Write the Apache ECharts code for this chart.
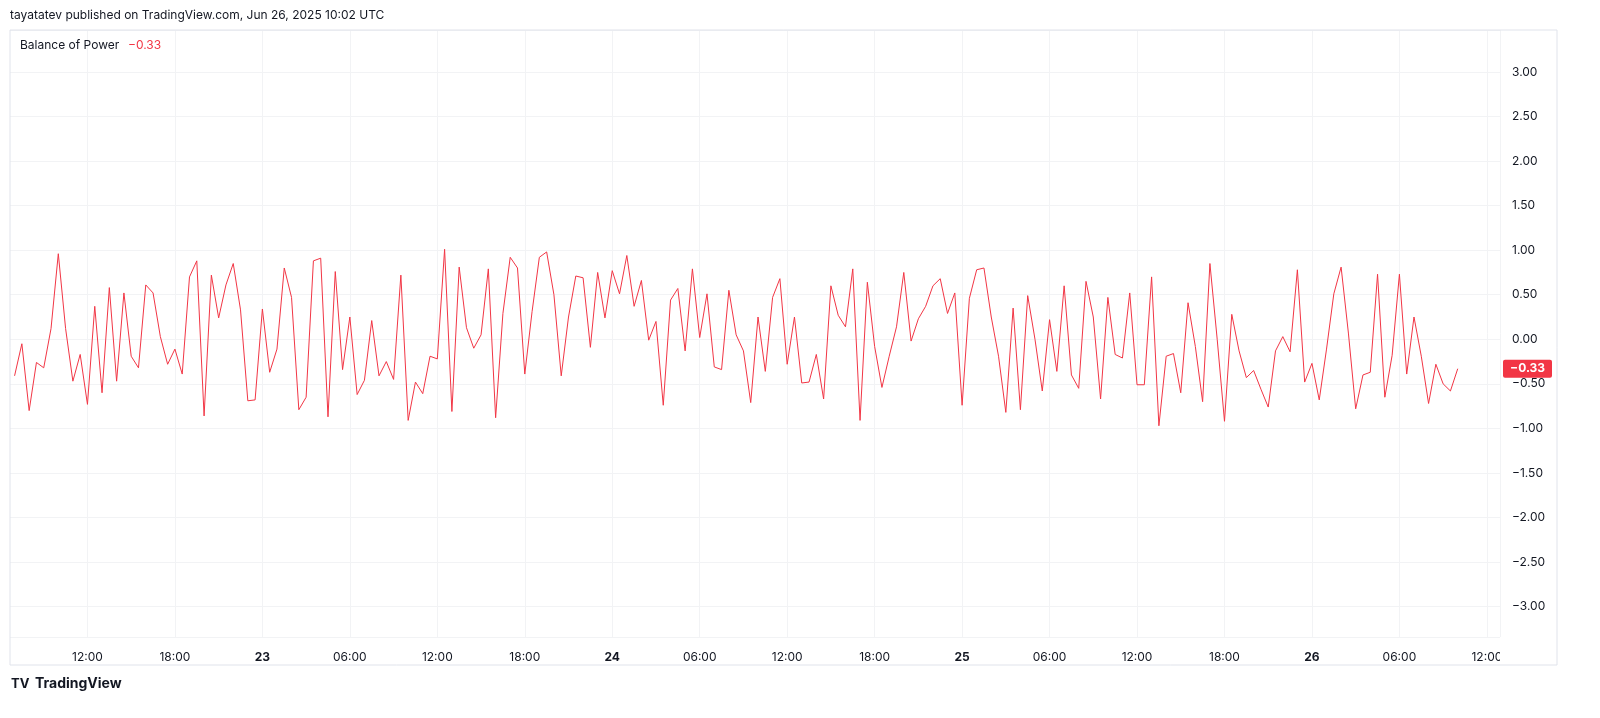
<!DOCTYPE html>
<html><head><meta charset="utf-8">
<script src="https://cdn.jsdelivr.net/npm/echarts@6/dist/echarts.min.js"></script>
<style>html,body{margin:0;padding:0;background:#fff}#c{width:1600px;height:718px}</style>
</head><body><div id="c"></div>
<script>
// Balance of Power, 30-minute bars starting 22 Jun 2025 07:00 UTC (hours counted from 22 Jun 00:00)
const startHour = 7;
const barHours = 0.5;
const firstDay = 22;
const bopValues = [
-0.41,-0.05,-0.80,-0.26,-0.32,0.12,0.96,0.12,-0.47,-0.17,-0.73,0.37,-0.60,0.58,-0.47,0.52,-0.19,-0.32,0.61,0.52,
0.03,-0.28,-0.11,-0.39,0.70,0.88,-0.86,0.72,0.24,0.61,0.85,0.33,-0.69,-0.68,
0.34,-0.37,-0.11,0.80,0.47,-0.79,-0.65,0.88,0.91,-0.87,0.76,-0.34,0.25,-0.62,-0.46,0.21,-0.41,-0.25,-0.45,0.72,
-0.91,-0.48,-0.61,-0.19,-0.22,1.01,-0.81,0.81,0.13,-0.10,0.05,0.79,-0.88,
0.29,0.92,0.80,-0.39,0.31,0.92,0.98,0.50,-0.41,0.25,0.71,0.69,-0.09,0.75,0.24,0.77,0.51,0.94,0.37,0.66,-0.01,0.20,
-0.74,0.44,0.57,-0.13,0.79,0.02,0.51,-0.31,-0.34,0.55,0.05,-0.13,
-0.71,0.25,-0.36,0.47,0.68,-0.28,0.25,-0.49,-0.48,-0.17,-0.67,0.60,0.27,0.14,0.79,-0.91,0.64,-0.08,-0.54,-0.19,
0.14,0.75,-0.02,0.23,0.37,0.60,0.68,0.29,0.52,-0.74,0.46,0.78,0.80,
0.25,-0.19,-0.82,0.35,-0.79,0.49,0.00,-0.58,0.22,-0.36,0.60,-0.40,-0.55,0.65,0.25,-0.67,0.47,-0.17,-0.21,0.52,
-0.51,-0.51,0.70,-0.97,-0.19,-0.16,-0.60,0.41,-0.08,-0.70,0.85,0.00,-0.92,0.28,
-0.13,-0.43,-0.35,-0.56,-0.76,-0.13,0.03,-0.14,0.78,-0.48,-0.27,-0.68,-0.11,0.51,0.81,0.07,-0.78,-0.40,-0.37,0.73,
-0.65,-0.18,0.73,-0.39,0.25,-0.19,-0.72,-0.28,-0.50,-0.58,-0.33
];
const yTickLabels = ['3.00','2.50','2.00','1.50','1.00','0.50','0.00','−0.50','−1.00','−1.50','−2.00','−2.50','−3.00'];

const RED = '#F23645';
const seriesData = bopValues.map((v, i) => [startHour + i * barHours, v]);
const lastVal = bopValues[bopValues.length - 1];
const fmt = v => (v < 0 ? '−' : '') + Math.abs(v).toFixed(2);

const chart = echarts.init(document.getElementById('c'));
chart.setOption({
  animation: false,
  backgroundColor: '#fff',
  textStyle: {fontFamily: 'Inter, "Noto Sans", sans-serif'},
  grid: {left: -5, right: 100, top: 30, bottom: 81},
  xAxis: {
    type: 'value', min: 6, max: 108.9, interval: 6,
    axisLine: {show: false}, axisTick: {show: false},
    splitLine: {show: true, lineStyle: {color: '#F2F3F5', width: 1}},
    axisLabel: {
      color: '#131722', fontSize: 12, margin: 14, showMinLabel: false, showMaxLabel: false,
      formatter: v => {
        const h = Math.round(v) % 24;
        if (h === 0) return '{b|' + (firstDay + Math.round(v) / 24) + '}';
        return String(h).padStart(2, '0') + ':00';
      },
      rich: {b: {fontWeight: 'bold', color: '#131722', fontSize: 12}}
    }
  },
  yAxis: {
    type: 'value', position: 'right',
    min: -3.34, max: 3.47, splitNumber: 14,
    axisLine: {show: false}, axisTick: {show: false},
    splitLine: {show: true, lineStyle: {color: '#F2F3F5'}},
    axisLabel: {
      color: '#131722', fontSize: 12, margin: 12,
      formatter: v => {
        const s = fmt(v);
        return yTickLabels.includes(s) && Math.abs(v * 2 - Math.round(v * 2)) < 1e-6 ? s : '';
      }
    }
  },
  series: [{
    type: 'line', data: seriesData, showSymbol: false,
    lineStyle: {color: RED, width: 1}, itemStyle: {color: RED}
  }]
});

const yPix = chart.convertToPixel({yAxisIndex: 0}, lastVal);
chart.setOption({
  graphic: [
    {type: 'rect', shape: {x: 0, y: 0, width: 10, height: 718}, style: {fill: '#fff'}, z: 5},
    {type: 'rect', shape: {x: 1500, y: 640, width: 56, height: 24}, style: {fill: '#fff'}, z: 5},
    {type: 'rect', shape: {x: 10, y: 30, width: 1547, height: 635}, style: {fill: 'none', stroke: '#E0E3EB', lineWidth: 1}, silent: true, z: 6},
    {type: 'text', left: 10, top: 9, z: 7, style: {text: 'tayatatev published on TradingView.com, Jun 26, 2025 10:02 UTC', fontSize: 12, fill: '#131722', fontFamily: 'Inter, sans-serif'}},
    {type: 'text', left: 20, top: 39, style: {text: 'Balance of Power', fontSize: 12, fill: '#131722', fontFamily: 'Inter, sans-serif'}},
    {type: 'text', left: 128, top: 39, style: {text: fmt(lastVal), fontSize: 12, fill: RED, fontFamily: 'Inter, sans-serif'}},
    {type: 'rect', shape: {x: 1503, y: yPix - 9, width: 49, height: 18, r: 2}, style: {fill: RED}},
    {type: 'text', x: 1510, y: yPix - 6, style: {text: fmt(lastVal), fontSize: 12, fill: '#fff', fontWeight: 'bold', fontFamily: 'Inter, sans-serif'}},
    {type: 'text', left: 11, top: 678, z: 7, style: {text: 'TV', fontSize: 13, fill: '#131722', fontWeight: 'bold', fontFamily: 'Inter, sans-serif'}},
    {type: 'text', left: 35, top: 677, z: 7, style: {text: 'TradingView', fontSize: 14, fill: '#131722', fontWeight: 'bold', fontFamily: 'Inter, sans-serif'}}
  ]
});
</script></body></html>
